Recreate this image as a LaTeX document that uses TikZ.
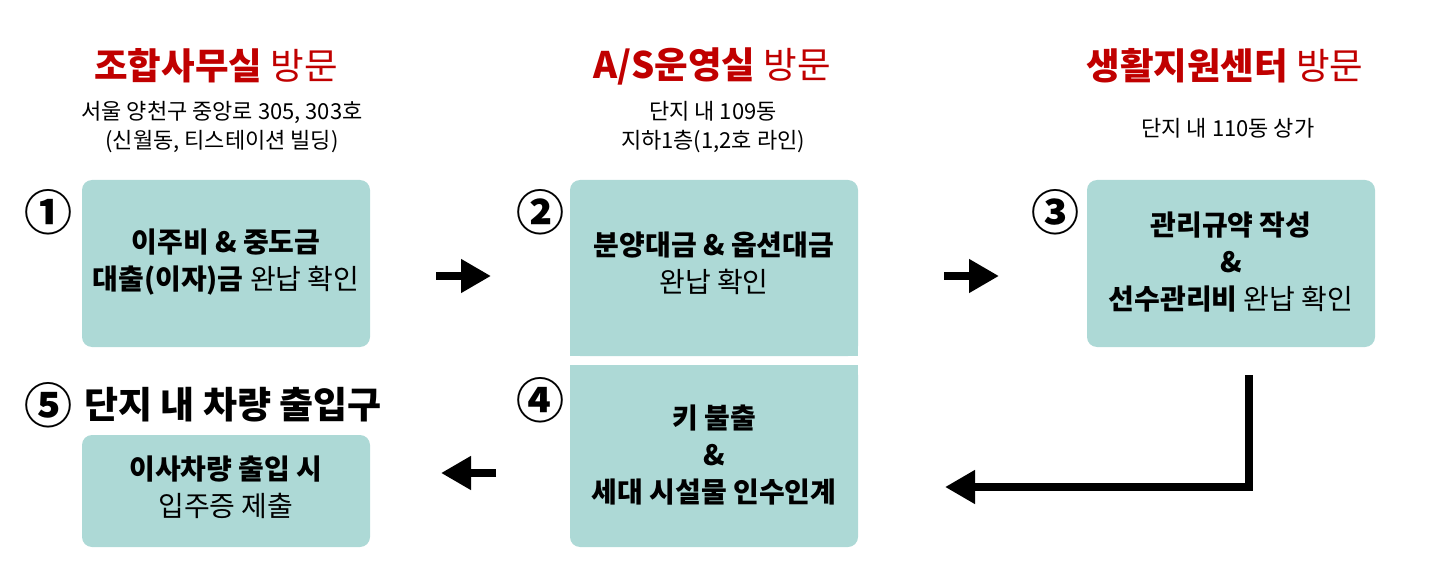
\documentclass[tikz,border=0pt]{standalone}
\usepackage{fontspec}
\setmainfont{Noto Sans CJK KR}
\usetikzlibrary{arrows.meta}
\definecolor{boxc}{HTML}{ADD9D6}
\definecolor{headred}{HTML}{C00000}
\tikzset{
  box/.style={fill=boxc, rounded corners=10pt, inner sep=0pt, minimum width=288pt},
  boxtext/.style={align=center, font=\fontsize{28}{37}\selectfont, inner sep=0pt},
  head/.style={text=headred, font=\fontsize{36.5}{40}\selectfont, inner sep=0pt},
  sub/.style={align=center, font=\fontsize{22}{29}\selectfont, inner sep=0pt},
  num/.style={font=\fontsize{48}{50}\selectfont\bfseries, inner sep=0pt},
  bigarrow/.style={line width=8pt, -{Triangle[width=32pt,length=30pt]}, line join=miter},
}
\begin{document}
\begin{tikzpicture}[x=1pt,y=-1pt]
\useasboundingbox (0,0) rectangle (1438,564);
% boxes
\node[box, minimum height=167pt] (b1) at (226,263.5) {};
\node[box, minimum height=176pt] (b2) at (714,268) {};
\fill[boxc] ([yshift=14pt]b2.south west) rectangle (b2.south east);
\node[box, minimum height=182pt] (b4) at (714,456) {};
\fill[boxc] (b4.north west) rectangle ([yshift=-14pt]b4.north east);
\node[box, minimum height=167pt] (b3) at (1231,263.5) {};
\node[box, minimum height=112pt] (b5) at (226,491) {};
% headings
\node[head] (h1) at (216,66) {\bfseries 조합사무실 \mdseries 방문};
\node[head] (h2) at (712,66) {\bfseries A/S운영실 \mdseries 방문};
\node[head] (h3) at (1225,66) {\bfseries 생활지원센터 \mdseries 방문};
\node[sub] (s1) at (222,127) {서울 양천구 중앙로 305, 303호\\(신월동, 티스테이션 빌딩)};
\node[sub] (s2) at (713,127) {단지 내 109동\\지하1층(1,2호 라인)};
\node[sub] (s3) at (1228,128) {단지 내 110동 상가};
% numbers
\node[num] (n1) at (48,212) {①};
\node[num] (n2) at (540,212) {②};
\node[num] (n3) at (1055,212) {③};
\node[num] (n4) at (540,400) {④};
\node[num] (n5) at (48,405) {⑤};
\node[font=\fontsize{37}{40}\selectfont\bfseries, inner sep=0pt, anchor=west] (l5) at (84,405) {단지 내 차량 출입구};
% box texts
\node[boxtext] (t1) at (226,262) {\bfseries 이주비 \& 중도금\\\bfseries 대출(이자)금 \mdseries 완납 확인};
\node[boxtext] (t2) at (714,263.5) {\bfseries 분양대금 \& 옵션대금\\완납 확인};
\node[boxtext] (t3) at (1231,262) {\bfseries 관리규약 작성\\\bfseries \&\\\bfseries 선수관리비 \mdseries 완납 확인};
\node[boxtext] (t4) at (714,455) {\bfseries 키 불출\\\bfseries \&\\\bfseries 세대 시설물 인수인계};
\node[boxtext] (t5) at (226,487) {\bfseries 이사차량 출입 시\\입주증 제출};
% arrows
\coordinate (a1s) at (436,276); \coordinate (a1e) at (491,276);
\coordinate (a2s) at (944,276); \coordinate (a2e) at (999,276);
\coordinate (a3s) at (496,473); \coordinate (a3e) at (441,473);
\coordinate (a4s) at (1249,375); \coordinate (a4c) at (1249,487); \coordinate (a4e) at (945,487);
\draw[bigarrow] (a1s) -- (a1e);
\draw[bigarrow] (a2s) -- (a2e);
\draw[bigarrow] (a3s) -- (a3e);
\draw[bigarrow] (a4s) -- (a4c) -- (a4e);
\end{tikzpicture}
\end{document}
